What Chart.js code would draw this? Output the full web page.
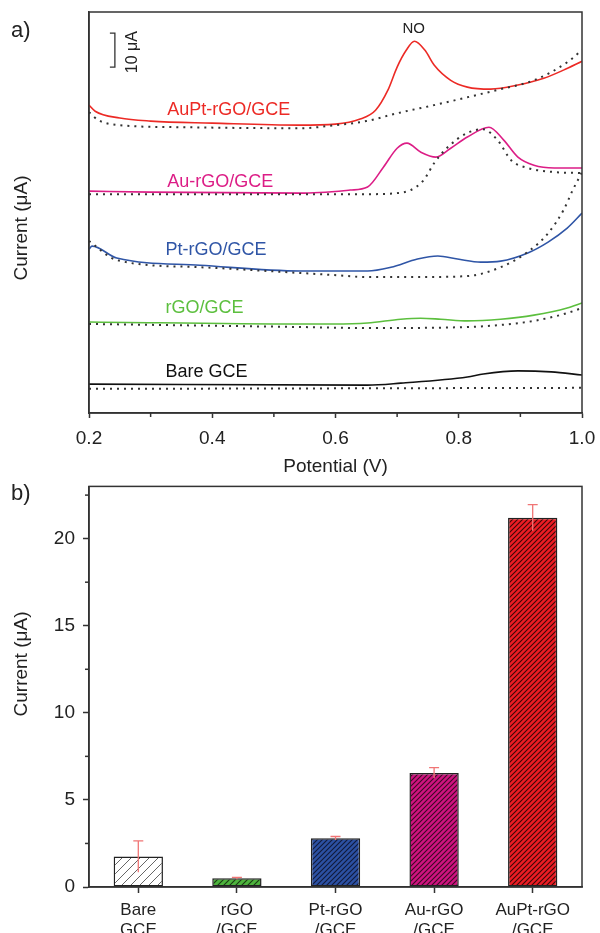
<!DOCTYPE html>
<html lang="en">
<head>
<meta charset="UTF-8">
<title>NO oxidation - voltammograms and peak currents</title>
<script src="https://cdn.jsdelivr.net/npm/chart.js@4"></script>
<style>
  html, body { margin: 0; padding: 0; background: #fff; }
  .wrap { position: relative; width: 600px; height: 933px; overflow: hidden; }
  #cvChart { position: absolute; left: 0; top: 0; }
  #barChart { position: absolute; left: 0; top: 467px; }
</style>
</head>
<body>
<div class="wrap">
  <canvas id="cvChart" width="600" height="478"></canvas>
  <canvas id="barChart" width="600" height="466"></canvas>
</div>

<script>
// ---- panel a: curves, [potential (V), current (uA, stacked offset)] ----
const auptSolid = [[0.200, 90.6], [0.210, 88.8], [0.250, 86.8], [0.300, 85.9], [0.400, 85.3], [0.540, 84.7],
  [0.600, 85.0], [0.640, 86.5], [0.665, 89.1], [0.685, 95.0], [0.700, 101.8], [0.715, 106.8], [0.728, 109.4],
  [0.745, 106.8], [0.760, 102.4], [0.787, 97.9], [0.814, 95.9], [0.852, 95.3], [0.896, 96.5], [0.938, 98.5],
  [0.970, 100.9], [1.000, 103.5]];
const auptBlank = [[0.200, 88.5], [0.215, 86.2], [0.250, 84.7], [0.350, 84.1], [0.543, 83.8], [0.600, 84.7],
  [0.650, 85.9], [0.700, 88.2], [0.760, 90.6], [0.814, 92.9], [0.868, 95.3], [0.922, 97.9], [0.976, 103.2], [1.000, 106.8]];

const auSolid = [[0.200, 65.3], [0.300, 65.0], [0.543, 64.7], [0.624, 65.6], [0.652, 66.5], [0.678, 72.4],
  [0.700, 77.9], [0.716, 79.4], [0.738, 76.8], [0.763, 75.3], [0.787, 77.9], [0.814, 81.2], [0.849, 84.1],
  [0.873, 80.3], [0.896, 75.3], [0.922, 72.9], [0.955, 72.1], [1.000, 72.1]];
const auBlank = [[0.200, 64.4], [0.543, 64.4], [0.652, 64.4], [0.700, 64.7], [0.722, 65.6], [0.743, 68.5],
  [0.760, 73.5], [0.782, 78.2], [0.814, 82.4], [0.839, 83.5], [0.863, 80.3], [0.885, 74.4], [0.912, 72.1],
  [0.955, 70.9], [1.000, 70.6]];

const ptSolid = [[0.200, 48.2], [0.205, 49.1], [0.245, 45.6], [0.380, 43.5], [0.543, 41.8], [0.597, 41.8],
  [0.652, 41.8], [0.690, 42.9], [0.733, 45.3], [0.766, 46.2], [0.798, 45.3], [0.836, 44.4], [0.868, 44.7],
  [0.912, 47.1], [0.945, 50.3], [0.976, 54.4], [1.000, 58.8]];
const ptBlank = [[0.200, 50.6], [0.245, 45.0], [0.380, 42.9], [0.543, 41.2], [0.597, 40.6], [0.652, 40.0],
  [0.733, 40.0], [0.814, 40.3], [0.868, 42.9], [0.912, 47.4], [0.945, 52.9], [0.970, 59.7], [0.985, 65.6], [1.000, 70.9]];

const rgoSolid = [[0.200, 26.8], [0.543, 26.2], [0.597, 26.2], [0.652, 26.5], [0.706, 27.6], [0.738, 27.9],
  [0.771, 27.6], [0.814, 27.1], [0.868, 27.6], [0.922, 28.8], [0.976, 30.9], [1.000, 32.4]];
const rgoBlank = [[0.200, 26.2], [0.543, 25.3], [0.652, 25.0], [0.814, 25.3], [0.868, 25.9], [0.922, 27.1],
  [0.976, 29.4], [1.000, 30.9]];

const bareSolid = [[0.200, 8.5], [0.652, 8.2], [0.706, 8.8], [0.814, 10.6], [0.840, 11.5], [0.896, 12.4],
  [0.950, 12.1], [1.000, 11.2]];
const bareBlank = [[0.200, 7.1], [1.000, 7.4]];

const potentialTicks = [0.2, 0.4, 0.6, 0.8, 1.0];
const potentialMinor = [0.3, 0.5, 0.7, 0.9];

// ---- panel b: peak currents ----
const electrodes = [['Bare', 'GCE'], ['rGO', '/GCE'], ['Pt-rGO', '/GCE'], ['Au-rGO', '/GCE'], ['AuPt-rGO', '/GCE']];
const peakCurrent = [1.75, 0.5, 2.8, 6.55, 21.2];
const peakError = [0.9, 0.05, 0.1, 0.3, 0.75];
const currentTicks = [0, 5, 10, 15, 20];
const currentMinor = [2.5, 7.5, 12.5, 17.5, 22.5];

const FONT = '"Liberation Sans", Arial, Helvetica, sans-serif';
Chart.defaults.font.family = FONT;
Chart.defaults.color = '#222';

const colAuPt = '#ec2a25';
const colAu = '#dc1d86';
const colPt = '#2f55a6';
const colRgo = '#5cbf3e';
const colBare = '#111111';

function solid(pts, color) {
  return { data: pts.map(p => ({ x: p[0], y: p[1] })), borderColor: color, borderWidth: 1.6 };
}
function dotted(pts) {
  return { data: pts.map(p => ({ x: p[0], y: p[1] })), borderColor: '#333', borderWidth: 2, borderDash: [2, 5] };
}

// box round the plot area
const framePlugin = {
  id: 'frame',
  afterDraw(chart) {
    const { ctx, chartArea: a } = chart;
    ctx.save();
    ctx.strokeStyle = '#333';
    ctx.lineWidth = 1.5;
    ctx.strokeRect(a.left, a.top, a.right - a.left, a.bottom - a.top);
    ctx.restore();
  }
};

// labels, scale bar, minor ticks for panel a
const cvDecor = {
  id: 'cvDecor',
  afterDraw(chart) {
    const { ctx } = chart;
    const xs = chart.scales.x, ys = chart.scales.y;
    ctx.save();
    // minor ticks
    ctx.strokeStyle = '#333';
    ctx.lineWidth = 1.5;
    const b = chart.chartArea.bottom;
    potentialMinor.forEach(v => {
      const px = xs.getPixelForValue(v);
      ctx.beginPath(); ctx.moveTo(px, b); ctx.lineTo(px, b + 4); ctx.stroke();
    });

    // curve labels
    ctx.font = '18px ' + FONT;
    ctx.textBaseline = 'middle';
    ctx.textAlign = 'left';
    const labels = [
      ['AuPt-rGO/GCE', colAuPt, 0.327, 89.1],
      ['Au-rGO/GCE', colAu, 0.327, 67.9],
      ['Pt-rGO/GCE', colPt, 0.324, 47.9],
      ['rGO/GCE', colRgo, 0.324, 30.9],
      ['Bare GCE', colBare, 0.324, 12.1]
    ];
    labels.forEach(l => {
      ctx.fillStyle = l[1];
      ctx.fillText(l[0], xs.getPixelForValue(l[2]), ys.getPixelForValue(l[3]));
    });

    ctx.fillStyle = '#222';
    ctx.font = '15px ' + FONT;
    ctx.textAlign = 'center';
    ctx.fillText('NO', xs.getPixelForValue(0.727), ys.getPixelForValue(112.9));

    // 10 uA scale bar
    const bx = xs.getPixelForValue(0.242);
    const y0 = ys.getPixelForValue(101.8), y1 = ys.getPixelForValue(111.8);
    ctx.lineWidth = 1.3;
    ctx.beginPath();
    ctx.moveTo(bx - 5, y1); ctx.lineTo(bx, y1); ctx.lineTo(bx, y0); ctx.lineTo(bx - 5, y0);
    ctx.stroke();
    ctx.save();
    ctx.translate(xs.getPixelForValue(0.2715), (y0 + y1) / 2 + 2);
    ctx.rotate(-Math.PI / 2);
    ctx.font = '16px ' + FONT;
    ctx.fillText('10 μA', 0, 0);
    ctx.restore();

    // panel letter and axis title
    ctx.textAlign = 'left';
    ctx.font = '22px ' + FONT;
    ctx.fillText('a)', 11, 31);
    ctx.save();
    ctx.translate(22, 228);
    ctx.rotate(-Math.PI / 2);
    ctx.textAlign = 'center';
    ctx.font = '19px ' + FONT;
    ctx.fillText('Current (μA)', 0, 0);
    ctx.restore();
    ctx.restore();
  }
};

new Chart(document.getElementById('cvChart'), {
  type: 'line',
  data: {
    datasets: [
      dotted(auptBlank), solid(auptSolid, colAuPt),
      dotted(auBlank), solid(auSolid, colAu),
      dotted(ptBlank), solid(ptSolid, colPt),
      dotted(rgoBlank), solid(rgoSolid, colRgo),
      dotted(bareBlank), solid(bareSolid, colBare)
    ]
  },
  options: {
    responsive: false,
    animation: false,
    layout: { padding: { left: 0, right: 18, top: 12, bottom: 0 } },
    plugins: { legend: { display: false }, tooltip: { enabled: false } },
    elements: { point: { radius: 0 }, line: { cubicInterpolationMode: 'monotone', fill: false } },
    scales: {
      x: {
        type: 'linear', min: 0.2, max: 1.0,
        afterFit: s => { s.height = 65; s.paddingLeft = 0; s.paddingRight = 0; },
        afterBuildTicks: s => { s.ticks = potentialTicks.map(v => ({ value: v })); },
        ticks: { callback: v => v.toFixed(1), font: { size: 19 }, color: '#222', padding: 9, maxRotation: 0 },
        grid: { drawOnChartArea: false, tickLength: 5, color: '#333', tickWidth: 1.5 },
        border: { color: '#333', width: 1.5 },
        title: { display: true, text: 'Potential (V)', font: { size: 19 }, color: '#222', padding: { top: 0, bottom: 0 } }
      },
      y: {
        min: 0, max: 118,
        afterFit: s => { s.width = 89; },
        ticks: { display: false },
        grid: { display: false, drawTicks: false },
        border: { color: '#333', width: 1.5 }
      }
    }
  },
  plugins: [framePlugin, cvDecor]
});

// ---- panel b ----
const barCtx = document.getElementById('barChart').getContext('2d');
function hatch(fill, line, gap, lw) {
  const c = document.createElement('canvas');
  c.width = gap; c.height = gap;
  const g = c.getContext('2d');
  g.fillStyle = fill;
  g.fillRect(0, 0, gap, gap);
  g.strokeStyle = line;
  g.lineWidth = lw;
  g.beginPath();
  g.moveTo(-gap, gap * 2); g.lineTo(gap * 2, -gap);
  g.moveTo(-gap, gap); g.lineTo(gap, -gap);
  g.moveTo(0, gap * 2); g.lineTo(gap * 2, 0);
  g.stroke();
  return barCtx.createPattern(c, 'repeat');
}
const barFills = [
  hatch('#ffffff', '#666', 9, 1),
  hatch('#4db33d', '#1a3a12', 6, 1.1),
  hatch('#2c50a3', '#101a3a', 5, 1.1),
  hatch('#d0137f', '#3a0a25', 5, 1.1),
  hatch('#ec1c24', '#3a0808', 5, 1.1)
];

const barDecor = {
  id: 'barDecor',
  afterDatasetsDraw(chart) {
    const { ctx } = chart;
    const ys = chart.scales.y;
    const meta = chart.getDatasetMeta(0);
    ctx.save();
    ctx.strokeStyle = '#f07575';
    ctx.lineWidth = 1.3;
    meta.data.forEach((bar, i) => {
      const top = ys.getPixelForValue(peakCurrent[i] + peakError[i]);
      const bot = ys.getPixelForValue(peakCurrent[i] - peakError[i]);
      ctx.beginPath();
      ctx.moveTo(bar.x, bot); ctx.lineTo(bar.x, top);
      ctx.moveTo(bar.x - 5, top); ctx.lineTo(bar.x + 5, top);
      ctx.stroke();
    });
    ctx.restore();
  },
  afterDraw(chart) {
    const { ctx } = chart;
    const ys = chart.scales.y;
    const l = chart.chartArea.left;
    ctx.save();
    ctx.strokeStyle = '#333';
    ctx.lineWidth = 1.5;
    currentMinor.forEach(v => {
      const py = ys.getPixelForValue(v);
      ctx.beginPath(); ctx.moveTo(l, py); ctx.lineTo(l - 4, py); ctx.stroke();
    });
    ctx.fillStyle = '#222';
    ctx.font = '22px ' + FONT;
    ctx.textBaseline = 'middle';
    ctx.fillText('b)', 11, 27);
    ctx.translate(22, 197);
    ctx.rotate(-Math.PI / 2);
    ctx.textAlign = 'center';
    ctx.font = '19px ' + FONT;
    ctx.fillText('Current (μA)', 0, 0);
    ctx.restore();
  }
};

new Chart(barCtx, {
  type: 'bar',
  data: {
    labels: electrodes,
    datasets: [{
      data: peakCurrent,
      backgroundColor: barFills,
      borderColor: '#222',
      borderWidth: 1.5,
      borderSkipped: false,
      barPercentage: 0.5,
      categoryPercentage: 1.0
    }]
  },
  options: {
    responsive: false,
    animation: false,
    layout: { padding: { left: 0, right: 18, top: 8, bottom: 0 } },
    plugins: { legend: { display: false }, tooltip: { enabled: false } },
    scales: {
      x: {
        offset: true,
        afterFit: s => { s.height = 46; },
        ticks: { font: { size: 17, lineHeight: 1.18 }, color: '#222', padding: 7, maxRotation: 0, autoSkip: false },
        grid: { offset: false, drawOnChartArea: false, tickLength: 6, color: '#333', tickWidth: 1.5 },
        border: { color: '#333', width: 1.5 }
      },
      y: {
        min: 0, max: 23,
        afterFit: s => { s.width = 89; },
        afterBuildTicks: s => { s.ticks = currentTicks.map(v => ({ value: v })); },
        ticks: { font: { size: 19 }, color: '#222', padding: 8 },
        grid: { drawOnChartArea: false, tickLength: 6, color: '#333', tickWidth: 1.5 },
        border: { color: '#333', width: 1.5 }
      }
    }
  },
  plugins: [framePlugin, barDecor]
});
</script>
</body>
</html>
